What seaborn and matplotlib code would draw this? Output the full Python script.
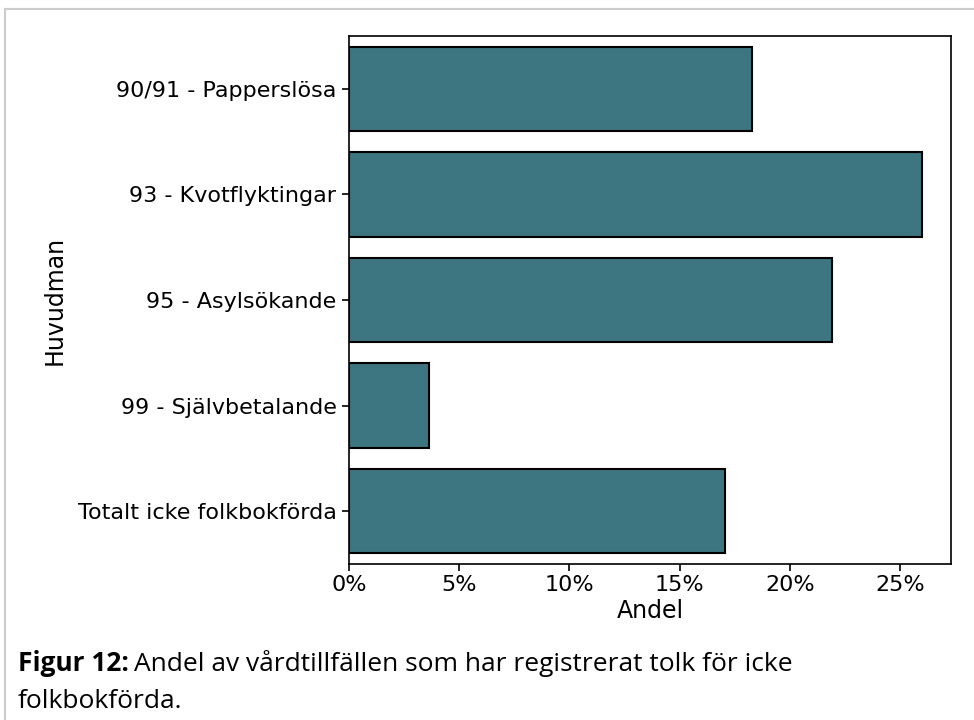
import pandas as pd
import numpy as np
import matplotlib
matplotlib.use('Agg')
import matplotlib.pyplot as plt
import matplotlib.ticker as mtick
from matplotlib.lines import Line2D
import seaborn as sns

huvudman = ['90/91 - Papperslösa', '93 - Kvotflyktingar', '95 - Asylsökande',
            '99 - Självbetalande', 'Totalt icke folkbokförda']
andel = [0.1829, 0.2602, 0.2193, 0.0362, 0.1708]

df = pd.DataFrame({'Huvudman': huvudman, 'Andel': andel})

fig = plt.figure(figsize=(9.74, 7.2), dpi=100)
ax = fig.add_axes([0.3583, 0.2167, 0.6181, 0.7333])

sns.barplot(data=df, x='Andel', y='Huvudman', color='#3d7580', saturation=1,
            edgecolor='black', linewidth=1.5, ax=ax)
ax.xaxis.set_major_formatter(mtick.PercentFormatter(1.0, decimals=0))
ax.tick_params(labelsize=16, width=1.2, length=5, pad=4)
ax.tick_params(axis='x', pad=3)
for s in ax.spines.values():
    s.set_linewidth(1.2)
ax.set_xlabel('Andel', fontsize=17, labelpad=3)
ax.set_ylabel('Huvudman', fontsize=17, labelpad=8)

# figure frame like the web container
fig.add_artist(Line2D([5 / 974, 1], [1 - 9 / 720, 1 - 9 / 720], color='#cccccc', lw=1.5))
fig.add_artist(Line2D([5 / 974, 5 / 974], [0, 1 - 9 / 720], color='#cccccc', lw=1.5))

# caption
x0, y1, y2 = 18 / 974, 1 - 671 / 720, 1 - 708 / 720
cap_font = 'Open Sans'
t = fig.text(x0, y1, 'Figur 12:', fontsize=19, fontweight='bold', family=cap_font)
fig.canvas.draw()
bb = t.get_window_extent(fig.canvas.get_renderer())
fig.text(bb.x1 / 974 + 5 / 974, y1, 'Andel av vårdtillfällen som har registrerat tolk för icke',
         fontsize=19, family=cap_font)
fig.text(x0, y2, 'folkbokförda.', fontsize=19, family=cap_font)

fig.savefig('out.png', dpi=100)
